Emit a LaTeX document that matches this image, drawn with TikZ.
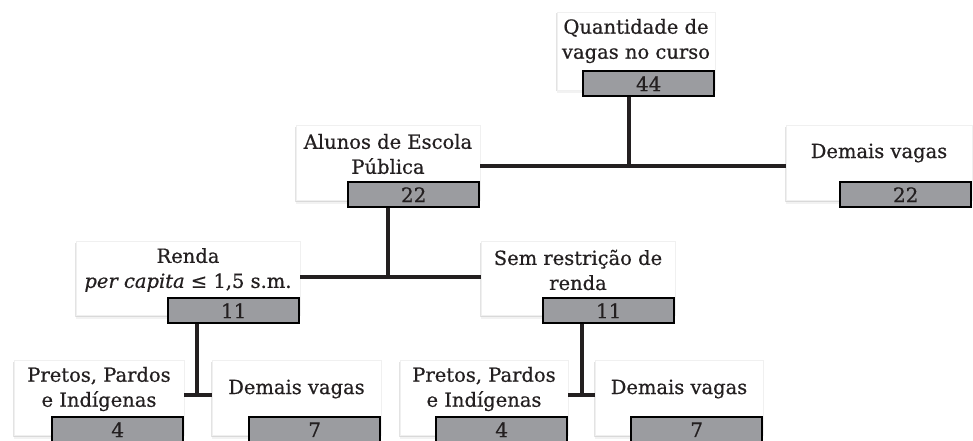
\documentclass[tikz,border=0pt]{standalone}
\usepackage{fontspec}
\setmainfont{DejaVu Serif}[FakeBold=0.6]
\usetikzlibrary{shadows}
\definecolor{ink}{RGB}{35,31,32}
\definecolor{bargray}{RGB}{155,156,160}

\begin{document}
\begin{tikzpicture}[x=1pt, y=-1pt]

	\tikzstyle{vagas_box} = [rectangle, fill=white, draw=black!6, line width=0.5pt, inner sep=0pt, outer sep=0pt, minimum height=75pt,
		drop shadow={shadow xshift=-1pt, shadow yshift=-1.5pt, opacity=0.22},
		drop shadow={shadow xshift=0pt, shadow yshift=-3.5pt, opacity=0.10}]
	\tikzstyle{vagas_bar} = [rectangle, draw=black, line width=1.6pt, fill=bargray, minimum width=131pt, minimum height=25pt, inner sep=0pt, anchor=south east, text=ink, font=\fontsize{20}{22}\selectfont]
	\tikzstyle{vagas_text} = [align=center, text=ink, inner sep=0pt, font=\fontsize{19.5}{25}\selectfont]
	\tikzstyle{link} = [draw=ink, line width=4pt]

	\useasboundingbox (0,0) rectangle (973,441);

%------------------------------------------------------------
	\node[vagas_box, minimum width=158pt, minimum height=78pt] (q) at (636,51) {};
	\node[vagas_text] (qt) at ([yshift=-29pt]q.north) {Quantidade de\\vagas no curso};
	\node[vagas_bar] (qb) at ([yshift=-7pt]q.south east) {44};
%------------------------------------------------------------
	\node[vagas_box, minimum width=184pt] (a) at (388,162.5) {};
	\node[vagas_text] (at) at ([yshift=-29pt]a.north) {Alunos de Escola\\Pública};
	\node[vagas_bar] (ab) at ([yshift=-8pt]a.south east) {22};

	\node[vagas_box, minimum width=186pt] (d1) at (879,162.5) {};
	\node[vagas_text] (d1t) at ([yshift=-28pt]d1.north) {Demais vagas};
	\node[vagas_bar] (d1b) at ([yshift=-8pt]d1.south east) {22};
%------------------------------------------------------------
	\node[vagas_box, minimum width=224pt, minimum height=74pt] (r) at (188,278) {};
	\node[vagas_text] (rt) at ([yshift=-29pt]r.north) {Renda\\\textit{per capita} ≤ 1,5 s.m.};
	\node[vagas_bar] (rb) at ([yshift=-9pt]r.south east) {11};

	\node[vagas_box, minimum width=194pt, minimum height=74pt] (s) at (578,278) {};
	\node[vagas_text] (st) at ([yshift=-29pt]s.north) {Sem restrição de\\renda};
	\node[vagas_bar] (sb) at ([yshift=-9pt]s.south east) {11};
%------------------------------------------------------------
	\node[vagas_box, minimum width=170pt] (pl) at (99,397.5) {};
	\node[vagas_text] (plt) at ([yshift=-29pt]pl.north) {Pretos, Pardos\\e Indígenas};
	\node[vagas_bar] (plb) at ([yshift=-8pt]pl.south east) {4};

	\node[vagas_box, minimum width=169pt] (dl) at (296.5,397.5) {};
	\node[vagas_text] (dlt) at ([yshift=-29pt]dl.north) {Demais vagas};
	\node[vagas_bar] (dlb) at ([yshift=-8pt]dl.south east) {7};

	\node[vagas_box, minimum width=168pt] (pr) at (484,397.5) {};
	\node[vagas_text] (prt) at ([yshift=-29pt]pr.north) {Pretos, Pardos\\e Indígenas};
	\node[vagas_bar] (prb) at ([yshift=-8pt]pr.south east) {4};

	\node[vagas_box, minimum width=168pt] (dr) at (679,397.5) {};
	\node[vagas_text] (drt) at ([yshift=-29pt]dr.north) {Demais vagas};
	\node[vagas_bar] (drb) at ([yshift=-8pt]dr.south east) {7};
%------------------------------------------------------------
	\coordinate (j1) at (629,166);
	\coordinate (j2) at (388,277);
	\coordinate (j3) at (197,395);
	\coordinate (j4) at (582,395);

	\draw[link] (qb.south -| j1) -- (j1);
	\draw[link] (a.east |- j1) -- (d1.west |- j1);

	\draw[link] (ab.south -| j2) -- (j2);
	\draw[link] (r.east |- j2) -- (s.west |- j2);

	\draw[link] (rb.south -| j3) -- (j3);
	\draw[link] (pl.east |- j3) -- (dl.west |- j3);

	\draw[link] (sb.south -| j4) -- (j4);
	\draw[link] (pr.east |- j4) -- (dr.west |- j4);

\end{tikzpicture}
\end{document}
